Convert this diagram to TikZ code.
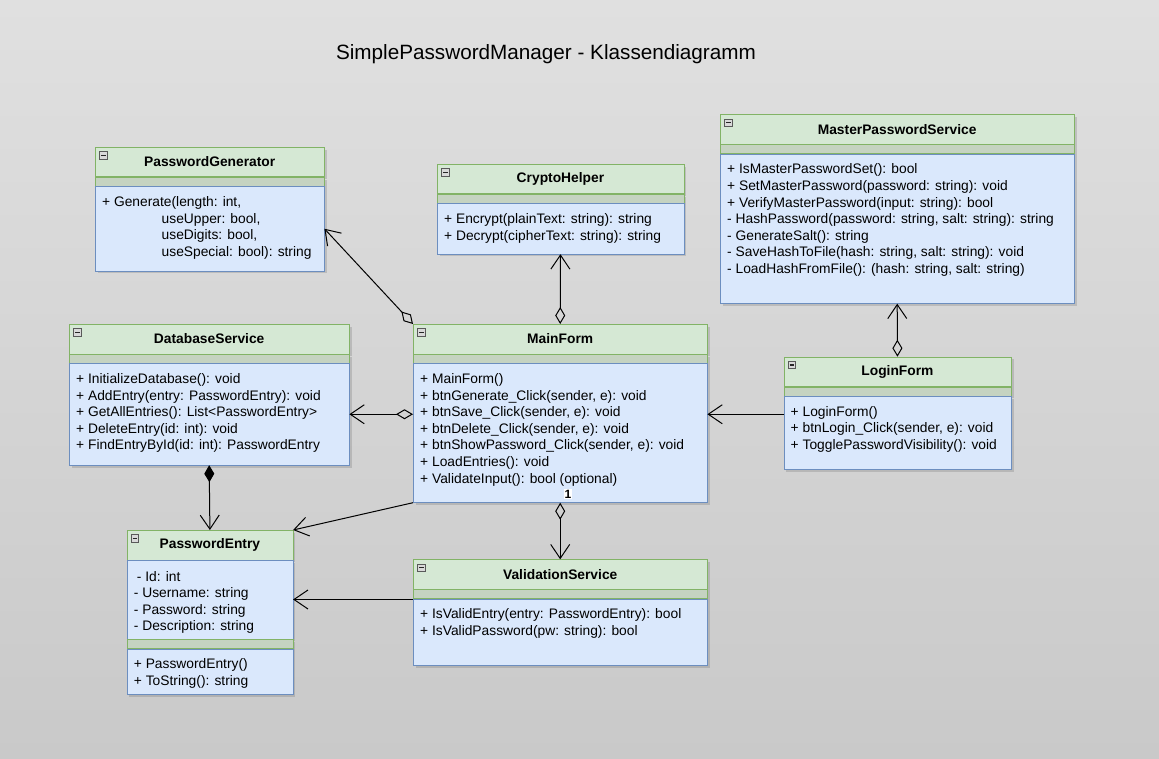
\documentclass[tikz,border=0pt]{standalone}
\usepackage{fontspec}
\setmainfont{Liberation Sans}
\usetikzlibrary{arrows.meta,shadows}
\definecolor{hdfill}{HTML}{D5E8D4}
\definecolor{hddraw}{HTML}{82B366}
\definecolor{bdfill}{HTML}{DAE8FC}
\definecolor{bddraw}{HTML}{6C8EBF}
\definecolor{bandfill}{HTML}{C5D3C1}
\definecolor{bgtop}{HTML}{E0E0E0}
\definecolor{bgbot}{HTML}{C9C9C9}

\begin{document}
\begin{tikzpicture}[x=1pt, y=-1pt,
        boxshadow/.style={drop shadow={shadow xshift=2.5pt, shadow yshift=-2.5pt, opacity=0.2, fill=black!70}},
        head/.style={rectangle, draw=hddraw, fill=hdfill, anchor=north west, minimum height=29.5pt, inner sep=0pt, font=\bfseries\fontsize{13.8}{16.6}\selectfont, boxshadow},
        band/.style={rectangle, draw=hddraw, fill=bandfill, anchor=north west, minimum height=9pt, inner sep=0pt, boxshadow},
        body/.style={rectangle, draw=bddraw, fill=bdfill, anchor=north west, inner sep=0pt, boxshadow},
        members/.style={anchor=north west, align=left, inner sep=0pt, font=\fontsize{13.8}{16.6}\selectfont, execute at begin node={\rule{0pt}{13pt}}},
        conn/.style={line width=1pt},
        odia/.tip={Diamond[open, length=17pt, width=10pt]},
        fdia/.tip={Diamond[length=17pt, width=10pt]},
        opn/.tip={Straight Barb[length=14pt, width=19pt]}
    ]

    % Background
    \shade[top color=bgtop, bottom color=bgbot] (0,0) rectangle (1159,759);
    \useasboundingbox (0,0) rectangle (1159,759);

    % Title
    \node[font=\fontsize{20.7}{24}\selectfont] (title) at (546,54) {SimplePasswordManager - Klassendiagramm};

    % PasswordGenerator
    \node[head, minimum width=229pt] (pgHead) at (95,147) {PasswordGenerator};
    \node[band, minimum width=229pt] (pgBand) at (pgHead.south west) {};
    \node[body, minimum width=229pt, minimum height=84.5pt] (pgBody) at (pgBand.south west) {};
    \node[members] (pgTxt) at ([shift={(7,10)}]pgBody.north west) {+ Generate(length: int,\\\hspace*{59.5pt}useUpper: bool,\\\hspace*{59.5pt}useDigits: bool,\\\hspace*{59.5pt}useSpecial: bool): string};

    % CryptoHelper
    \node[head, minimum width=246.5pt] (chHead) at (437,164) {CryptoHelper};
    \node[band, minimum width=246.5pt] (chBand) at (chHead.south west) {};
    \node[body, minimum width=246.5pt, minimum height=50.5pt] (chBody) at (chBand.south west) {};
    \node[members] (chTxt) at ([shift={(7,10)}]chBody.north west) {+ Encrypt(plainText: string): string\\+ Decrypt(cipherText: string): string};

    % MasterPasswordService
    \node[head, minimum width=354pt] (mpHead) at (720,114.5) {MasterPasswordService};
    \node[band, minimum width=354pt] (mpBand) at (mpHead.south west) {};
    \node[body, minimum width=354pt, minimum height=149.5pt] (mpBody) at (mpBand.south west) {};
    \node[members] (mpTxt) at ([shift={(7,10)}]mpBody.north west) {+ IsMasterPasswordSet(): bool\\+ SetMasterPassword(password: string): void\\+ VerifyMasterPassword(input: string): bool\\- HashPassword(password: string, salt: string): string\\- GenerateSalt(): string\\- SaveHashToFile(hash: string, salt: string): void\\- LoadHashFromFile(): (hash: string, salt: string)};

    % DatabaseService
    \node[head, minimum width=280pt] (dbHead) at (69,324) {DatabaseService};
    \node[band, minimum width=280pt] (dbBand) at (dbHead.south west) {};
    \node[body, minimum width=280pt, minimum height=101.5pt] (dbBody) at (dbBand.south west) {};
    \node[members] (dbTxt) at ([shift={(7,10)}]dbBody.north west) {+ InitializeDatabase(): void\\+ AddEntry(entry: PasswordEntry): void\\+ GetAllEntries(): List<PasswordEntry>\\+ DeleteEntry(id: int): void\\+ FindEntryById(id: int): PasswordEntry};

    % MainForm
    \node[head, minimum width=294pt] (mfHead) at (413,324) {MainForm};
    \node[band, minimum width=294pt] (mfBand) at (mfHead.south west) {};
    \node[body, minimum width=294pt, minimum height=139pt] (mfBody) at (mfBand.south west) {};
    \node[members] (mfTxt) at ([shift={(7,10)}]mfBody.north west) {+ MainForm()\\+ btnGenerate\_Click(sender, e): void\\+ btnSave\_Click(sender, e): void\\+ btnDelete\_Click(sender, e): void\\+ btnShowPassword\_Click(sender, e): void\\+ LoadEntries(): void\\+ ValidateInput(): bool (optional)};

    % LoginForm
    \node[head, minimum width=227.5pt] (lfHead) at (783.5,356.7) {LoginForm};
    \node[band, minimum width=227.5pt] (lfBand) at (lfHead.south west) {};
    \node[body, minimum width=227.5pt, minimum height=73pt] (lfBody) at (lfBand.south west) {};
    \node[members] (lfTxt) at ([shift={(7,10)}]lfBody.north west) {+ LoginForm()\\+ btnLogin\_Click(sender, e): void\\+ TogglePasswordVisibility(): void};

    % PasswordEntry
    \node[head, minimum width=166pt] (peHead) at (126.7,530) {PasswordEntry};
    \node[body, minimum width=166pt, minimum height=78.8pt] (peAttr) at (peHead.south west) {};
    \node[members] (peAttrTxt) at ([shift={(7,11)}]peAttr.north west) {\hspace*{3pt}- Id: int\\- Username: string\\- Password: string\\- Description: string};
    \node[band, minimum width=166pt] (peBand) at (peAttr.south west) {};
    \node[body, minimum width=166pt, minimum height=45.4pt] (peBody) at (peBand.south west) {};
    \node[members] (peTxt) at ([shift={(7,10)}]peBody.north west) {+ PasswordEntry()\\+ ToString(): string};

    % ValidationService
    \node[head, minimum width=294pt] (vsHead) at (413,559.3) {ValidationService};
    \node[band, minimum width=294pt] (vsBand) at (vsHead.south west) {};
    \node[body, minimum width=294pt, minimum height=66.2pt] (vsBody) at (vsBand.south west) {};
    \node[members] (vsTxt) at ([shift={(7,10)}]vsBody.north west) {+ IsValidEntry(entry: PasswordEntry): bool\\+ IsValidPassword(pw: string): bool};

    % Collapse icons
    \foreach \h in {pgHead, chHead, mpHead, dbHead, mfHead, lfHead, peHead, vsHead} {
        \draw[draw=gray!70!black, fill=gray!30, line width=0.6pt] ([shift={(4.5,4.5)}]\h.north west) rectangle ++(7.5,7.5);
        \draw[gray!30!black, line width=1.4pt] ([shift={(6,8.25)}]\h.north west) -- ++(4.5,0);
    }

    % Relations
    \draw[conn, odia-opn] (mfHead.north west) -- (pgBody.east);
    \draw[conn, odia-opn] (mfHead.north) -- (chBody.south);
    \draw[conn, odia-opn] (lfHead.north) -- (mpBody.south);
    \draw[conn, odia-opn] (mfBody.west |- dbBody.east) -- (dbBody.east);
    \draw[conn, -opn] (lfBody.west |- dbBody.east) -- (mfBody.east |- dbBody.east);
    \draw[conn, fdia-opn] (dbBody.south) -- (peHead.north);
    \draw[conn, -opn] (mfBody.south west) -- (peHead.north east);
    \draw[conn, -opn] (vsBody.west |- peAttr.east) -- (peAttr.east);
    \draw[conn, odia-opn] (mfBody.south) -- node[pos=0, anchor=south west, xshift=3pt, yshift=3pt, fill=white, inner sep=1pt, font=\bfseries\fontsize{12}{14}\selectfont] (mult) {1} (vsHead.north);

\end{tikzpicture}
\end{document}
